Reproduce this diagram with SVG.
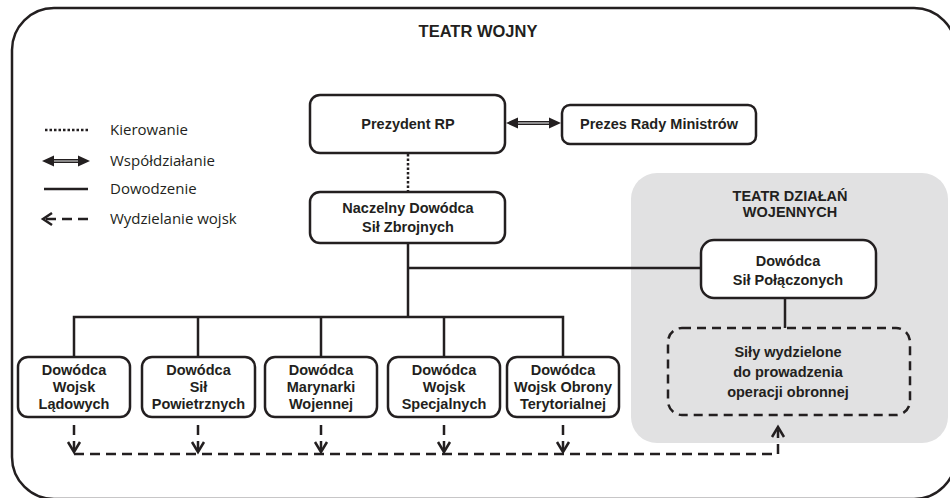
<svg xmlns="http://www.w3.org/2000/svg" width="950" height="498" viewBox="0 0 950 498">
<defs>
<style>
.frame{fill:#fff;stroke:#231f20;stroke-width:2.5}
.box{fill:#fff;stroke:#231f20;stroke-width:2.5}
.dbox{fill:none;stroke:#231f20;stroke-width:2.5;stroke-dasharray:9 6}
.solid{fill:none;stroke:#231f20;stroke-width:2.5}
.dot{fill:none;stroke:#231f20;stroke-width:2.5;stroke-dasharray:2.5 2}
.dash{fill:none;stroke:#231f20;stroke-width:2.5;stroke-dasharray:10 6}
.chev{fill:none;stroke:#231f20;stroke-width:2.5;stroke-linejoin:miter}
.coop{fill:none;stroke:#231f20;stroke-width:4}
.coopin{fill:none;stroke:#b5b5b5;stroke-width:1.4}
.head{fill:#231f20}
.b{font-family:"Liberation Sans",Arial,sans-serif;font-weight:bold;font-size:14.5px;fill:#231f20;text-anchor:middle}
.t{font-family:"Liberation Sans",Arial,sans-serif;font-weight:bold;font-size:16.5px;fill:#231f20;text-anchor:middle}
.l{font-family:"Open Sans","Liberation Sans",sans-serif;font-size:15px;fill:#231f20}
</style>
</defs>

<g id="frame">
<rect class="frame" x="12" y="8" width="944" height="491" rx="42"/>
<text class="t" x="478" y="37">TEATR WOJNY</text>
</g>

<g id="theatre-region">
<rect x="631" y="173" width="317" height="270" rx="26" fill="#e1e1e2"/>
<text class="b" x="790" y="201">TEATR DZIAŁAŃ</text>
<text class="b" x="790" y="217">WOJENNYCH</text>
</g>

<g id="legend">
<line class="dot" x1="45" y1="130" x2="88" y2="130"/>
<text class="l" x="110" y="135">Kierowanie</text>
<line class="coop" x1="50" y1="161" x2="82" y2="161"/>
<line class="coopin" x1="50" y1="161" x2="82" y2="161"/>
<polygon class="head" points="42,161 54,155.5 54,166.5"/>
<polygon class="head" points="90,161 78,155.5 78,166.5"/>
<text class="l" x="110" y="166">Współdziałanie</text>
<line class="solid" x1="44" y1="189" x2="88" y2="189" stroke-width="2.8"/>
<text class="l" x="110" y="194">Dowodzenie</text>
<line class="dash" x1="46" y1="219" x2="89" y2="219" stroke-dasharray="8 5"/>
<polyline class="chev" points="52,213 43,219 52,225"/>
<text class="l" x="110" y="224">Wydzielanie wojsk</text>
</g>

<g id="connectors">
<line class="coop" x1="515" y1="123" x2="552" y2="123"/>
<line class="coopin" x1="515" y1="123" x2="552" y2="123"/>
<polygon class="head" points="506,123 518,117.5 518,128.5"/>
<polygon class="head" points="561,123 549,117.5 549,128.5"/>
<line class="dot" x1="408" y1="154" x2="408" y2="192"/>
<polyline class="solid" points="408,243 408,317"/>
<line class="solid" x1="408" y1="268" x2="701" y2="268"/>
<polyline class="solid" points="74,357 74,317 563,317 563,357"/>
<line class="solid" x1="198" y1="317" x2="198" y2="357"/>
<line class="solid" x1="321" y1="317" x2="321" y2="357"/>
<line class="solid" x1="444" y1="317" x2="444" y2="357"/>
<line class="solid" x1="785" y1="298" x2="785" y2="328"/>
<line class="dash" x1="74" y1="425" x2="74" y2="450" stroke-dasharray="7 5"/>
<line class="dash" x1="198" y1="425" x2="198" y2="450" stroke-dasharray="7 5"/>
<line class="dash" x1="321" y1="425" x2="321" y2="450" stroke-dasharray="7 5"/>
<line class="dash" x1="444" y1="425" x2="444" y2="450" stroke-dasharray="7 5"/>
<line class="dash" x1="563" y1="425" x2="563" y2="450" stroke-dasharray="7 5"/>
<polyline class="chev" points="68,442 74,452 80,442"/>
<polyline class="chev" points="192,442 198,452 204,442"/>
<polyline class="chev" points="315,442 321,452 327,442"/>
<polyline class="chev" points="438,442 444,452 450,442"/>
<polyline class="chev" points="557,442 563,452 569,442"/>
<polyline class="dash" points="74,454 778,454 778,430"/>
<polyline class="chev" points="772,437 778,427 784,437"/>
</g>

<g id="prezydent">
<rect class="box" x="310" y="95" width="195" height="58" rx="10"/>
<text class="b" x="408" y="129">Prezydent RP</text>
</g>

<g id="premier">
<rect class="box" x="562" y="105" width="194" height="39" rx="8"/>
<text class="b" x="659" y="129">Prezes Rady Ministrów</text>
</g>

<g id="naczelny">
<rect class="box" x="310" y="192" width="195" height="51" rx="10"/>
<text class="b" x="408" y="213">Naczelny Dowódca</text>
<text class="b" x="408" y="232">Sił Zbrojnych</text>
</g>

<g id="dowodca-polaczonych">
<rect class="box" x="701" y="240" width="175" height="58" rx="13"/>
<text class="b" x="788" y="266">Dowódca</text>
<text class="b" x="788" y="285">Sił Połączonych</text>
</g>

<g id="sily-wydzielone">
<rect class="dbox" x="668" y="328" width="242" height="87" rx="14"/>
<text class="b" x="788" y="357">Siły wydzielone</text>
<text class="b" x="788" y="377">do prowadzenia</text>
<text class="b" x="788" y="397">operacji obronnej</text>
</g>

<g id="wojska-ladowe">
<rect class="box" x="18" y="357" width="112" height="60" rx="10"/>
<text class="b" x="74" y="375">Dowódca</text>
<text class="b" x="74" y="392">Wojsk</text>
<text class="b" x="74" y="409">Lądowych</text>
</g>

<g id="sily-powietrzne">
<rect class="box" x="142" y="357" width="113" height="60" rx="10"/>
<text class="b" x="198.5" y="375">Dowódca</text>
<text class="b" x="198.5" y="392">Sił</text>
<text class="b" x="198.5" y="409">Powietrznych</text>
</g>

<g id="marynarka-wojenna">
<rect class="box" x="265" y="357" width="112" height="60" rx="10"/>
<text class="b" x="321" y="375">Dowódca</text>
<text class="b" x="321" y="392">Marynarki</text>
<text class="b" x="321" y="409">Wojennej</text>
</g>

<g id="wojska-specjalne">
<rect class="box" x="388" y="357" width="112" height="60" rx="10"/>
<text class="b" x="444" y="375">Dowódca</text>
<text class="b" x="444" y="392">Wojsk</text>
<text class="b" x="444" y="409">Specjalnych</text>
</g>

<g id="wot">
<rect class="box" x="507" y="357" width="112" height="60" rx="10"/>
<text class="b" x="563" y="375">Dowódca</text>
<text class="b" x="563" y="392">Wojsk Obrony</text>
<text class="b" x="563" y="409">Terytorialnej</text>
</g>
</svg>
